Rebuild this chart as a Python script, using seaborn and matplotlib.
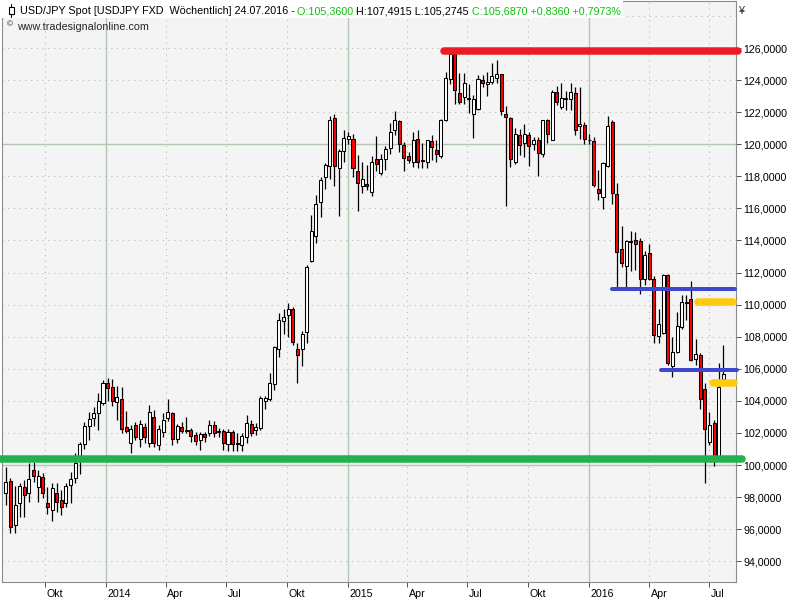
import numpy as np
import pandas as pd
import seaborn as sns
import matplotlib.pyplot as plt
import matplotlib.dates as mdates
import matplotlib.transforms as mtransforms
from matplotlib.patches import Rectangle
from matplotlib.lines import Line2D

# weekly USD/JPY candles, one per week (Friday)
weeks = pd.date_range("2013-08-02", "2016-07-22", freq="W-FRI")

opens = [98.27, 99.00, 96.26, 97.61, 98.61, 98.27, 99.69, 98.65, 99.27, 97.61,
         97.20, 98.24, 97.82, 97.65, 98.75, 99.17, 100.31, 101.31, 102.43, 102.91,
         103.22, 103.88, 105.13, 104.84, 103.94, 104.09, 102.35, 101.39, 102.49, 101.60,
         102.39, 101.39, 103.00, 101.25, 102.07, 102.95, 103.22, 101.60, 102.39, 102.15,
         102.18, 101.85, 101.56, 101.91, 101.97, 102.49, 102.10, 102.14, 101.31, 102.07,
         101.29, 101.25, 101.76, 102.55, 102.18, 102.29, 104.00, 104.09, 105.05, 107.21,
         108.99, 109.35, 109.70, 107.21, 107.21, 108.31, 112.71, 114.29, 116.41, 117.96,
         118.65, 121.66, 118.55, 119.58, 120.31, 120.35, 118.34, 117.40, 117.55, 117.03,
         119.07, 118.21, 119.07, 119.78, 120.87, 121.43, 119.94, 119.25, 118.90, 120.35,
         119.02, 118.90, 120.21, 119.67, 119.27, 121.50, 124.09, 125.61, 123.22, 122.95,
         122.83, 121.91, 122.22, 124.03, 123.78, 123.88, 124.16, 124.36, 121.91, 121.66,
         118.90, 120.56, 120.08, 120.56, 120.00, 120.25, 119.42, 121.50, 120.29, 123.26,
         122.33, 122.83, 122.85, 123.22, 121.12, 121.18, 120.29, 120.19, 117.24, 116.72,
         118.65, 121.39, 116.87, 113.44, 112.42, 113.95, 114.02, 113.96, 111.57, 113.19,
         111.63, 108.04, 108.21, 111.84, 106.19, 107.02, 108.62, 110.10, 110.38, 106.59,
         106.85, 104.72, 101.45, 102.60, 100.52, 105.36]
highs = [99.89, 99.17, 98.69, 98.86, 99.07, 100.14, 100.21, 99.69, 99.48, 98.65,
         98.86, 98.86, 98.44, 98.90, 99.58, 100.73, 101.45, 102.70, 103.32, 103.63,
         104.50, 105.30, 105.45, 105.34, 104.92, 104.84, 103.38, 102.49, 102.70, 102.80,
         102.60, 103.74, 103.43, 102.49, 103.26, 104.09, 103.32, 102.55, 102.70, 102.97,
         102.29, 102.07, 102.07, 102.07, 102.80, 102.75, 102.30, 102.23, 102.23, 102.18,
         102.00, 101.98, 103.10, 102.80, 102.60, 104.30, 104.30, 105.71, 107.41, 109.49,
         109.76, 110.11, 109.86, 107.58, 108.37, 112.46, 115.58, 116.82, 117.96, 118.84,
         121.74, 121.87, 119.73, 120.87, 120.77, 120.67, 119.31, 118.90, 118.69, 119.25,
         120.50, 119.38, 119.88, 121.33, 122.06, 121.50, 120.14, 119.52, 120.77, 120.87,
         120.08, 120.29, 120.56, 120.25, 121.60, 124.50, 125.86, 125.75, 124.46, 124.46,
         123.74, 123.05, 124.30, 124.30, 124.50, 125.07, 125.28, 124.40, 122.40, 121.70,
         121.04, 120.98, 121.25, 120.77, 120.45, 120.45, 121.54, 121.60, 123.36, 123.61,
         123.82, 123.32, 123.82, 123.57, 123.57, 121.39, 120.67, 120.45, 118.38, 118.90,
         121.74, 121.50, 117.59, 114.89, 114.02, 114.58, 114.54, 114.16, 113.33, 113.81,
         111.78, 109.70, 111.90, 111.94, 107.96, 109.55, 110.59, 110.59, 111.46, 107.89,
         106.96, 105.09, 103.32, 102.80, 106.34, 107.49]
lows = [97.51, 95.74, 95.74, 96.78, 96.78, 97.71, 98.96, 97.71, 97.93, 96.95,
        96.53, 97.09, 96.88, 97.40, 97.61, 98.86, 99.45, 101.00, 101.56, 102.43,
        102.18, 103.74, 104.00, 103.70, 102.80, 101.98, 101.97, 100.73, 101.56, 101.14,
        101.35, 101.14, 101.14, 100.93, 101.72, 102.76, 101.25, 101.35, 102.00, 101.97,
        101.45, 101.25, 100.93, 101.45, 101.81, 101.78, 101.75, 100.95, 100.90, 100.90,
        100.90, 100.90, 101.40, 101.80, 101.90, 102.18, 103.50, 104.00, 104.67, 106.75,
        108.20, 107.99, 107.48, 105.13, 106.17, 107.58, 112.67, 113.85, 115.47, 117.24,
        117.86, 117.38, 115.51, 118.90, 120.00, 117.96, 115.84, 116.93, 117.13, 116.76,
        118.32, 118.07, 118.38, 119.38, 120.56, 119.52, 118.34, 118.80, 118.59, 118.55,
        118.55, 118.49, 119.00, 118.90, 119.17, 121.45, 123.78, 122.49, 122.49, 122.50,
        121.95, 120.42, 122.12, 123.57, 122.99, 123.78, 123.82, 121.81, 116.16, 118.59,
        118.75, 119.31, 119.21, 118.63, 119.63, 118.00, 119.21, 120.08, 120.25, 122.43,
        122.22, 122.12, 122.12, 120.56, 120.35, 120.04, 120.00, 117.34, 116.51, 115.99,
        118.59, 116.30, 111.11, 112.36, 111.11, 112.11, 112.15, 110.64, 111.21, 111.53,
        107.62, 107.62, 108.16, 106.23, 105.50, 106.96, 108.46, 109.03, 106.50, 106.23,
        103.47, 98.90, 101.25, 99.94, 100.30, 105.27]
closes = [98.96, 96.16, 97.51, 98.69, 98.11, 99.11, 99.33, 99.31, 98.24, 97.40,
          98.55, 97.71, 97.36, 98.69, 99.11, 100.10, 101.31, 102.43, 102.85, 103.22,
          104.00, 105.13, 104.78, 104.00, 104.26, 102.22, 102.14, 102.22, 101.76, 102.55,
          101.72, 103.28, 101.35, 102.22, 102.80, 103.28, 101.60, 102.43, 102.14, 102.18,
          101.81, 101.50, 101.93, 101.72, 102.49, 102.01, 102.05, 101.35, 102.07, 101.29,
          101.39, 101.81, 102.60, 102.01, 102.35, 104.16, 104.16, 105.09, 107.37, 109.03,
          109.24, 109.76, 107.68, 106.85, 108.16, 112.32, 114.60, 116.30, 117.76, 118.69,
          121.50, 118.63, 119.58, 120.42, 120.50, 118.55, 117.59, 117.82, 117.40, 118.90,
          118.77, 119.11, 119.69, 120.77, 121.50, 120.04, 119.17, 119.00, 120.25, 118.90,
          118.98, 120.25, 119.83, 119.42, 121.54, 124.16, 125.65, 123.41, 122.64, 123.84,
          122.87, 122.85, 124.09, 123.82, 123.90, 124.24, 124.36, 122.08, 121.70, 119.05,
          120.62, 119.98, 120.62, 119.90, 120.25, 119.46, 121.50, 120.67, 123.26, 122.64,
          122.91, 122.87, 123.26, 120.91, 121.29, 120.35, 120.25, 117.49, 116.97, 118.86,
          121.12, 116.97, 113.29, 112.61, 113.96, 113.93, 113.81, 111.57, 113.08, 111.63,
          108.10, 108.77, 111.84, 106.34, 107.06, 108.66, 110.17, 110.15, 106.54, 106.92,
          104.09, 102.22, 102.49, 100.40, 104.88, 105.69]

# hand drawn support / resistance lines
level_prices = [125.80, 100.37, 110.95, 105.90, 110.15, 105.10]
level_starts = ["2015-05-26", "2013-07-01", "2016-02-04", "2016-04-18", "2016-06-14", "2016-07-07"]
level_ends = ["2016-08-13", "2016-08-19", "2016-08-08", "2016-08-11", "2016-08-05", "2016-08-07"]
level_colors = ["#ed1c24", "#22b14c", "#3f48cc", "#3f48cc", "#ffc90e", "#ffc90e"]
level_px = [7.5, 7.5, 4.0, 4.0, 7.5, 7.5]

tick_dates = pd.date_range("2013-10-01", "2016-07-01", freq="QS")
tick_labels = ["Okt", "2014", "Apr", "Jul", "Okt", "2015", "Apr", "Jul", "Okt", "2016", "Apr", "Jul"]
price_ticks = list(range(94, 127, 2))

sns.set_theme(style="white")
plt.rcParams['font.family'] = ['Liberation Sans', 'DejaVu Sans']

W, H = 800, 600
fig = plt.figure(figsize=(8, 6), dpi=100)
fig.patch.set_facecolor("white")
ax = fig.add_axes([2 / W, (H - 581.7) / H, 734 / W, 580.7 / H])
ax.set_facecolor("#f4f4f4")

df = pd.DataFrame({"week": weeks, "open": opens, "high": highs, "low": lows, "close": closes})
df["x"] = mdates.date2num(df["week"])
df["bottom"] = df[["open", "close"]].min(axis=1)
df["height"] = (df["close"] - df["open"]).abs().clip(lower=0.04)
body_colors = np.where(df["close"] < df["open"], "#ff0000", "white")

# grid
solid_c, dot_c = "#b3c7b3", "#a6bca6"
for d in tick_dates:
    xv = mdates.date2num(d)
    if d.month == 1:
        ax.axvline(xv, color=solid_c, lw=1.0, zorder=0)
    else:
        ax.axvline(xv, color=dot_c, lw=0.75, ls=(0, (1, 4.5)), zorder=0)
for v in range(94, 130, 2):
    if v % 20 == 0:
        ax.axhline(v, color=solid_c, lw=1.0, zorder=0)
    else:
        ax.axhline(v, color=dot_c, lw=0.75, ls=(0, (1, 4.5)), zorder=0)

# candles
ax.vlines(df["x"], df["low"], df["high"], color="black", lw=0.9, zorder=2)
ax.bar(df["x"], df["height"], bottom=df["bottom"], width=4.6, color=body_colors,
       edgecolor="black", linewidth=0.75, zorder=3)

# level lines
for p, s, e, c, w in zip(level_prices, level_starts, level_ends, level_colors, level_px):
    seg = pd.DataFrame({"x": mdates.date2num(pd.to_datetime([s, e])), "y": [p, p]})
    sns.lineplot(data=seg, x="x", y="y", ax=ax, color=c, lw=w * 0.72,
                 solid_capstyle="round", clip_on=False, zorder=5)

x0 = mdates.date2num(pd.Timestamp("2013-07-27 07:00"))
x1 = mdates.date2num(pd.Timestamp("2016-08-10 02:00"))
ax.set_xlim(x0, x1)
ax.set_ylim(92.73, 128.93)
ax.set_xlabel("")
ax.set_ylabel("")

ax.yaxis.tick_right()
ax.set_yticks(price_ticks)
ax.set_yticklabels([f"{v:.4f}".replace(".", ",") for v in price_ticks])
ax.set_xticks(mdates.date2num(tick_dates))
ax.set_xticklabels(tick_labels)
ax.tick_params(axis="y", which="major", right=True, left=False, length=3.6, width=0.72,
               color="#555555", pad=1.5, labelsize=7.7, labelcolor="black")
ax.tick_params(axis="x", which="major", bottom=True, length=3.6, width=0.72,
               color="#555555", pad=1.5, labelsize=7.7, labelcolor="black")
shift = mtransforms.ScaledTranslation(1.5 / 100, 0, fig.dpi_scale_trans)
for lbl in ax.get_xticklabels():
    lbl.set_horizontalalignment("left")
    lbl.set_transform(lbl.get_transform() + shift)

for side in ["left", "right", "bottom", "top"]:
    ax.spines[side].set_visible(True)
    ax.spines[side].set_color("#8c8c8c")
    ax.spines[side].set_linewidth(0.8)


def fx(px):
    return px / W


def fy(py):
    return 1 - py / H


# header text
renderer = fig.canvas.get_renderer()
head_size = 7.75
pieces = [("USD/JPY Spot [USDJPY FXD  Wöchentlich] 24.07.2016 - ", "black"),
          ("O:105,3600 ", "#10c010"),
          ("H:107,4915 L:105,2745 ", "black"),
          ("C:105,6870 +0,8360 +0,7973%", "#10c010")]


def text_width(s):
    t = fig.text(0, 0, s + "|", fontsize=head_size)
    t2 = fig.text(0, 0, "|", fontsize=head_size)
    w = t.get_window_extent(renderer).width - t2.get_window_extent(renderer).width
    t.remove()
    t2.remove()
    return w


xpos = 19.5
for s, c in pieces:
    fig.text(fx(xpos), fy(14.3), s, fontsize=head_size, color=c, va="baseline", ha="left", zorder=6)
    xpos += text_width(s)

fig.add_artist(Rectangle((0, fy(18)), fx(xpos + 2), 18 / H, transform=fig.transFigure,
                         facecolor="white", edgecolor="none", zorder=4))
# small candle icon
fig.add_artist(Line2D([fx(11), fx(11)], [fy(3.5), fy(17)], transform=fig.transFigure,
                      color="black", lw=0.8, zorder=6))
fig.add_artist(Rectangle((fx(8.5), fy(13.5)), fx(5), 6 / H, transform=fig.transFigure,
                         facecolor="white", edgecolor="black", lw=0.8, zorder=7))
fig.text(fx(9.5), fy(24.5), "©", fontsize=6, ha="center", va="center", zorder=6)
fig.text(fx(16.7), fy(30.2), "www.tradesignalonline.com", fontsize=head_size, va="baseline",
         ha="left", zorder=6)
fig.text(fx(739), fy(14), "¥", fontsize=7.7, va="baseline", ha="left")

fig.savefig("out.png", dpi=100)
